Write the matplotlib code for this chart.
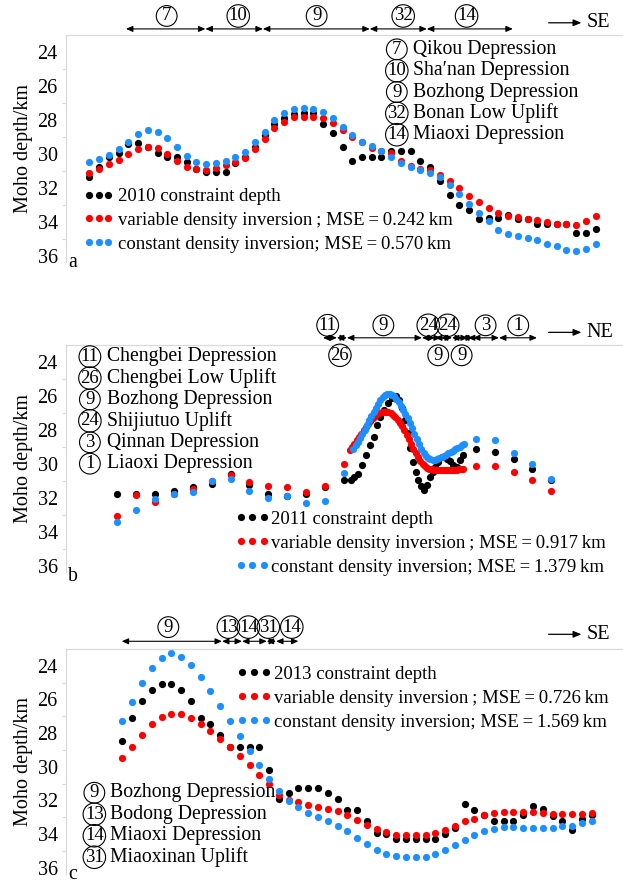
import numpy as np
import matplotlib.pyplot as plt

plt.rcParams['font.family'] = ['Liberation Serif', 'DejaVu Serif']
plt.rcParams['font.size'] = 14.2

BLACK = '#000000'
RED = '#ff0000'
BLUE = '#1e8fff'
FS = 14.2
LEG_FS = 13.5

# ---- panel a (2010 profile), one value per station
a_black = [31.33, 30.75, 30.2, 29.92, 29.4, 29.33, 29.6, 29.92, 30.2, 30.16,
           30.45, 30.9, 31.04, 31.04, 31.04, 30.5, 30.2, 29.6, 28.9, 28.22,
           27.89, 27.63, 27.6, 27.6, 28.22, 28.77, 29.6, 30.43, 30.18, 30.18,
           30.18, 29.85, 29.85, 29.85, 30.43, 30.77, 31.61, 32.43, 32.98, 33.28,
           33.81, 33.79, 33.79, 33.57, 33.84, 33.84, 34.1, 34.1, 34.1, 34.1,
           34.65, 34.65, 34.4]
a_red = [31.14, 30.86, 30.6, 30.35, 30.0, 29.73, 29.59, 29.67, 30.0, 30.41,
         30.74, 30.9, 30.94, 30.84, 30.65, 30.47, 30.21, 29.7, 29.1, 28.48,
         28.09, 27.83, 27.79, 27.79, 27.89, 28.18, 28.58, 29.0, 29.32, 29.66,
         29.8, 29.95, 30.39, 30.68, 30.9, 30.97, 31.22, 31.57, 32.0, 32.45,
         32.85, 33.18, 33.47, 33.67, 33.73, 33.81, 33.9, 34.02, 34.1, 34.1,
         34.16, 33.96, 33.67]
a_blue = [30.45, 30.31, 30.06, 29.7, 29.27, 28.84, 28.59, 28.69, 29.04, 29.6,
          30.12, 30.47, 30.59, 30.51, 30.39, 30.2, 29.86, 29.31, 28.69, 27.99,
          27.56, 27.36, 27.26, 27.32, 27.52, 27.89, 28.42, 28.9, 29.3, 29.55,
          29.81, 30.18, 30.5, 30.77, 30.96, 31.12, 31.38, 31.8, 32.36, 32.92,
          33.5, 33.96, 34.45, 34.69, 34.85, 34.94, 35.08, 35.28, 35.43, 35.63,
          35.73, 35.59, 35.28]

# ---- panel b (2011 profile): sparse stations plus a dense stretch in the middle
b_sparse_x = [0, 1, 2, 3, 4, 5, 6, 7, 8, 9, 10, 11, 12, 19, 20, 21, 22, 23]
b_black_sparse = [31.78, 31.78, 31.78, 31.58, 31.38, 31.22, 30.62, 31.28, 31.78,
                  31.88, 31.78, 31.4, 30.94, 29.15, 29.31, 29.7, 30.33, 30.98]
b_red_sparse = [33.09, 31.85, 32.23, 31.78, 31.48, 30.99, 30.69, 31.05, 31.32,
                31.38, 31.64, 31.34, 30.04, 30.16, 30.16, 30.49, 30.94, 31.61]
b_blue_sparse = [33.41, 32.7, 32.07, 31.78, 31.64, 30.99, 30.92, 31.62, 32.01,
                 31.93, 32.33, 32.21, 30.53, 28.52, 28.62, 29.35, 30.04, 30.88]

b_black_dense_x = [12.38, 12.54, 12.76, 12.97, 13.18, 13.39, 13.6, 13.76, 13.92,
                   14.13, 14.35, 14.56, 14.77, 14.93, 15.09, 15.25, 15.41, 15.51,
                   15.67, 15.83, 15.96, 16.12, 16.25, 16.4, 16.57, 16.71, 16.84,
                   17.01, 17.19, 17.46, 17.63, 17.81, 17.99, 18.16, 18.34]
b_black_dense = [30.95, 30.8, 30.6, 30.1, 29.5, 28.9, 28.4, 27.7, 27.25, 26.85,
                 26.45, 26.15, 26.0, 26.25, 26.7, 27.45, 28.2, 29.1, 29.9, 30.5,
                 30.95, 31.3, 31.57, 31.28, 30.8, 30.5, 30.2, 29.9, 29.6, 29.7,
                 29.85, 30.1, 30.2, 29.8, 29.5]
b_red_dense = [29.21, 29.02, 28.82, 28.62, 28.43, 28.23, 28.03, 27.84, 27.66, 27.48,
               27.32, 27.19, 27.07, 26.99, 26.95, 26.93, 26.93, 26.97, 27.03, 27.13,
               27.24, 27.4, 27.58, 27.8, 28.03, 28.29, 28.56, 28.84, 29.11, 29.37,
               29.61, 29.82, 30.0, 30.14, 30.24, 30.29, 30.33, 30.35, 30.35, 30.35,
               30.35, 30.35, 30.35, 30.35, 30.35, 30.35, 30.35, 30.35, 30.33, 30.33,
               30.31]
b_blue_dense = [29.11, 28.92, 28.7, 28.46, 28.23, 27.99, 27.72, 27.44, 27.19, 26.93,
                26.69, 26.46, 26.26, 26.1, 25.97, 25.89, 25.87, 25.93, 26.02, 26.18,
                26.38, 26.6, 26.83, 27.07, 27.32, 27.6, 27.91, 28.23, 28.54, 28.84,
                29.11, 29.35, 29.53, 29.65, 29.72, 29.76, 29.76, 29.72, 29.66, 29.61,
                29.55, 29.47, 29.39, 29.31, 29.23, 29.15, 29.07, 29.0, 28.92, 28.86]
b_red_span = (12.33, 18.34)
b_blue_span = (12.51, 18.39)

# ---- panel c (2013 profile)
c_black = [28.48, 27.13, 26.1, 25.45, 25.09, 25.09, 25.45, 26.1, 27.13, 27.47,
           28.13, 28.8, 28.82, 28.82, 28.82, 30.21, 31.94, 31.54, 31.24, 31.24,
           31.24, 31.54, 31.94, 32.59, 32.59, 33.23, 33.94, 33.98, 34.3, 34.3,
           34.3, 34.3, 34.3, 33.98, 33.64, 32.23, 32.59, 32.89, 33.25, 33.25,
           33.25, 32.85, 32.33, 32.53, 32.95, 33.23, 33.74, 33.09, 32.89]
c_red = [29.48, 28.82, 28.13, 27.49, 27.04, 26.84, 26.88, 27.1, 27.47, 27.89,
         28.33, 28.82, 29.36, 29.91, 30.47, 31.02, 31.66, 32.0, 32.11, 32.27,
         32.41, 32.51, 32.63, 32.89, 33.19, 33.44, 33.7, 33.88, 34.04, 34.08,
         34.08, 34.04, 33.92, 33.74, 33.54, 33.25, 33.09, 32.89, 32.75, 32.69,
         32.69, 32.69, 32.69, 32.75, 32.83, 32.83, 32.83, 32.83, 32.73]
c_blue = [27.29, 26.16, 25.05, 24.16, 23.52, 23.27, 23.46, 23.96, 24.65, 25.49,
          26.4, 27.27, 28.19, 29.08, 29.91, 30.75, 31.44, 32.04, 32.41, 32.73,
          32.99, 33.23, 33.5, 33.82, 34.22, 34.58, 34.93, 35.17, 35.31, 35.37,
          35.37, 35.37, 35.21, 34.93, 34.67, 34.38, 34.08, 33.82, 33.7, 33.58,
          33.58, 33.62, 33.62, 33.62, 33.62, 33.54, 33.52, 33.35, 33.23]

# ---- legends / region annotations (thin spaces keep the MSE text compact)
T = '\u2009'
a_labels = ['2010 constraint depth',
            f'variable density inversion{T}; MSE{T}={T}0.242{T}km',
            f'constant density inversion; MSE{T}={T}0.570{T}km']
b_labels = ['2011 constraint depth',
            f'variable density inversion{T}; MSE{T}={T}0.917{T}km',
            f'constant density inversion; MSE{T}={T}1.379{T}km']
c_labels = ['2013 constraint depth',
            f'variable density inversion{T}; MSE{T}={T}0.726{T}km',
            f'constant density inversion; MSE{T}={T}1.569{T}km']

a_key = [('7', 'Qikou Depression'), ('10', 'Sha\u2032nan Depression'),
         ('9', 'Bozhong Depression'), ('32', 'Bonan Low Uplift'),
         ('14', 'Miaoxi Depression')]
b_key = [('11', 'Chengbei Depression'), ('26', 'Chengbei Low Uplift'),
         ('9', 'Bozhong Depression'), ('24', 'Shijiutuo Uplift'),
         ('3', 'Qinnan Depression'), ('1', 'Liaoxi Depression')]
c_key = [('9', 'Bozhong Depression'), ('13', 'Bodong Depression'),
         ('14', 'Miaoxi Depression'), ('31', 'Miaoxinan Uplift')]

a_bounds = [3.76, 11.92, 17.82, 28.8, 34.66, 43.49]
a_units = [('7', 7.94), ('10', 15.29), ('9', 23.34), ('32', 32.23), ('14', 38.74)]
b_bounds = [10.9, 11.64, 12.17, 16.15, 16.84, 17.15, 17.74, 18.27, 18.58, 18.85,
            20.23, 22.24]
b_units_top = [('11', 11.15), ('9', 14.1), ('24', 16.48), ('24', 17.51),
               ('3', 19.52), ('1', 21.25)]
b_units_bottom = [('26', 11.8), ('9', 17.01), ('9', 18.25)]
c_bounds = [-0.08, 10.18, 12.23, 14.76, 15.71, 18.0]
c_units = [('9', 4.69), ('13', 10.83), ('14', 12.88), ('31', 14.92), ('14', 17.32)]


def circled(ax, x, y, s, transform):
    ax.text(x, y, s, ha='center', va='center', fontsize=13.5, transform=transform,
            clip_on=False,
            bbox=dict(boxstyle='circle,pad=0.1', fc='none', ec='black', lw=0.8))


def style_axes(ax, xlim, letter, letter_y):
    ax.set_xlim(xlim)
    ax.set_ylim(36.38, 23.0)
    ax.set_xticks([])
    ax.set_yticks(np.arange(24, 37, 2))
    ax.set_yticks(np.arange(25, 36, 2), minor=True)
    ax.tick_params(axis='y', which='major', length=0, pad=6, labelsize=14.5)
    ax.tick_params(axis='y', which='minor', length=3, width=0.8, color='#d9d9d9')
    for side in ['right', 'bottom']:
        ax.spines[side].set_visible(False)
    for side in ['left', 'top']:
        ax.spines[side].set_color('#d9d9d9')
        ax.spines[side].set_linewidth(0.9)
    ax.set_ylabel('Moho depth/km', fontsize=14.5)
    ax.yaxis.set_label_coords(-0.06, 0.5)
    ax.text(0.004, letter_y, letter, transform=ax.transAxes, ha='left',
            va='center', fontsize=FS)


def profile_bar(ax, bounds, units, y_arrow, y_top, units_below=(), y_below=None):
    tr = ax.get_xaxis_transform()
    for x0, x1 in zip(bounds[:-1], bounds[1:]):
        ax.annotate('', xy=(x1, y_arrow), xytext=(x0, y_arrow), xycoords=tr,
                    textcoords=tr, annotation_clip=False,
                    arrowprops=dict(arrowstyle='<|-|>,head_length=0.5,head_width=0.22',
                                    color='black', lw=0.8, shrinkA=0, shrinkB=0,
                                    mutation_scale=8))
    for s, x in units:
        circled(ax, x, y_top, s, tr)
    for s, x in units_below:
        circled(ax, x, y_below, s, tr)


def direction(ax, y, text):
    ax.annotate('', xy=(0.927, y), xytext=(0.868, y), xycoords='axes fraction',
                annotation_clip=False,
                arrowprops=dict(arrowstyle='-|>,head_length=0.6,head_width=0.25',
                                color='black', lw=0.9, shrinkA=0, shrinkB=0,
                                mutation_scale=8))
    ax.text(0.936, y, text, transform=ax.transAxes, ha='left', va='center',
            fontsize=14.5)


def region_key(ax, key, xc, xt, y0, step):
    for i, (num, name) in enumerate(key):
        y = y0 - i * step
        circled(ax, xc, y, num, ax.transAxes)
        ax.text(xt, y, name, transform=ax.transAxes, ha='left', va='center',
                fontsize=FS)


def series_legend(ax, handles, labels, anchor, hlen, tpad):
    ax.legend(handles, labels, loc='upper left', bbox_to_anchor=anchor,
              frameon=False, numpoints=3, handlelength=hlen, handletextpad=tpad,
              labelspacing=0.36, borderpad=0, borderaxespad=0, fontsize=LEG_FS)


def dots(ax, x, y, color):
    return ax.plot(x, y, 'o', ms=5.2, mew=0, color=color, linestyle='none')[0]


fig = plt.figure(figsize=(6.23, 8.84), dpi=100)
left, width = 0.1059, 0.8925

# ---------- a
ax = fig.add_axes([left, 0.7033, width, 0.2568])
xa = np.arange(len(a_black))
h1 = dots(ax, xa, a_black, BLACK)
h2 = dots(ax, xa, a_red, RED)
h3 = dots(ax, xa, a_blue, BLUE)
style_axes(ax, (-2.4, 54.7), 'a', -0.003)
profile_bar(ax, a_bounds, a_units, 1.028, 1.085)
direction(ax, 1.055, 'SE')
region_key(ax, a_key, 0.595, 0.625, 0.938, 0.094)
series_legend(ax, [h1, h2, h3], a_labels, (0.032, 0.327), 1.6, 0.25)

# ---------- b
ax = fig.add_axes([left, 0.3529, width, 0.2570])
xr = np.linspace(*b_red_span, len(b_red_dense))
xb = np.linspace(*b_blue_span, len(b_blue_dense))
h1 = dots(ax, b_sparse_x + b_black_dense_x, b_black_sparse + b_black_dense, BLACK)
h2 = dots(ax, np.concatenate([b_sparse_x, xr]), b_red_sparse + b_red_dense, RED)
h3 = dots(ax, np.concatenate([b_sparse_x, xb]), b_blue_sparse + b_blue_dense, BLUE)
style_axes(ax, (-2.72, 26.75), 'b', -0.021)
profile_bar(ax, b_bounds, b_units_top, 1.031, 1.086, b_units_bottom, 0.954)
direction(ax, 1.055, 'NE')
region_key(ax, b_key, 0.043, 0.074, 0.948, 0.0942)
series_legend(ax, [h1, h2, h3], b_labels, (0.304, 0.27), 1.85, 0.08)

# ---------- c
ax = fig.add_axes([left, 0.0113, width, 0.2546])
xc = np.arange(len(c_black))
h1 = dots(ax, xc, c_black, BLACK)
h2 = dots(ax, xc, c_red, RED)
h3 = dots(ax, xc, c_blue, BLUE)
style_axes(ax, (-5.78, 51.1), 'c', -0.004)
profile_bar(ax, c_bounds, c_units, 1.034, 1.097)
direction(ax, 1.065, 'SE')
region_key(ax, c_key, 0.051, 0.080, 0.361, 0.0955)
series_legend(ax, [h1, h2, h3], c_labels, (0.307, 0.925), 1.85, 0.12)

fig.savefig('out.png', dpi=100)
